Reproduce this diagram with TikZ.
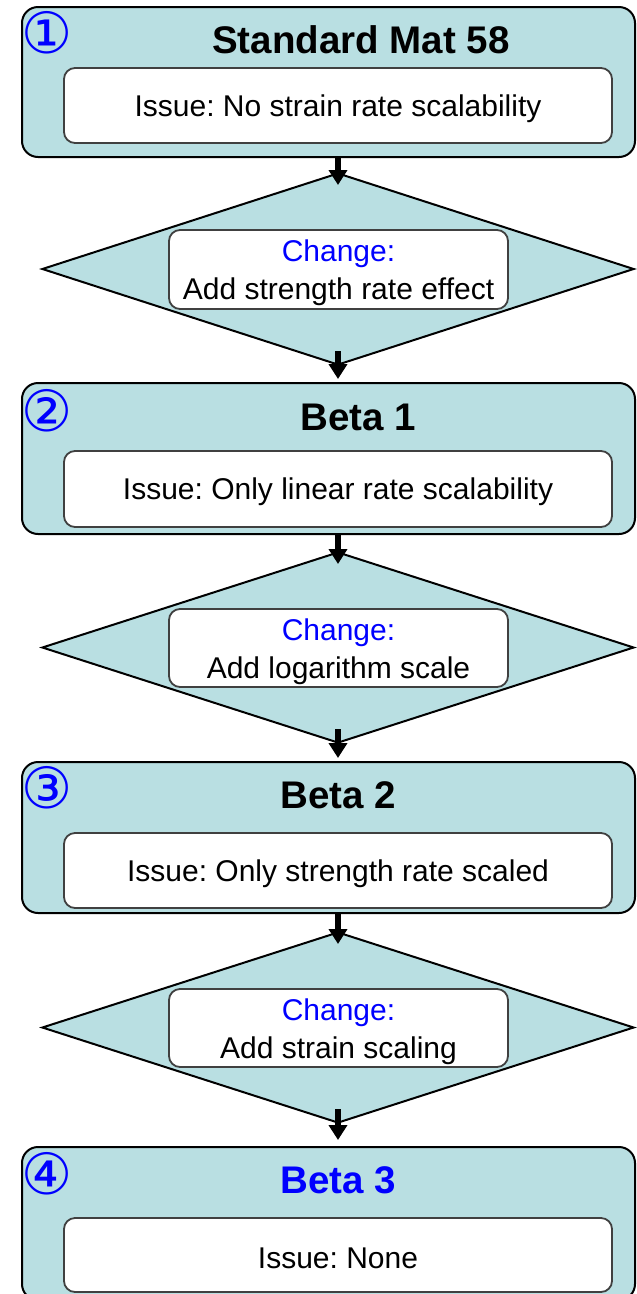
\documentclass[tikz,border=0pt]{standalone}
\usepackage{fontspec}
\setmainfont{Liberation Sans}
\newfontfamily\circfont{DejaVu Sans}
\usetikzlibrary{shapes.geometric,arrows.meta,calc}
\definecolor{teal1}{HTML}{B9DFE2}
\definecolor{bblue}{HTML}{0000FF}
\definecolor{ibord}{HTML}{404040}
\frenchspacing
\newcommand{\twolines}[2]{\raisebox{-3.5pt}[\height][\depth]{\begin{tabular}{@{}c@{}}\textcolor{bblue}{#1}\\#2\end{tabular}}}
\newcommand{\issuetext}[1]{\raisebox{-3pt}[\height][\depth]{#1}}
\tikzset{
  outerbox/.style={draw=black, line width=2pt, fill=teal1, rounded corners=16pt, minimum width=613pt, inner sep=0pt},
  issuebox/.style={draw=ibord, line width=1.8pt, fill=white, rounded corners=11pt, minimum width=548pt, inner sep=0pt, font=\fontsize{30}{36}\selectfont},
  decide/.style={draw=black, line width=2pt, fill=teal1, diamond, minimum width=592pt, minimum height=192pt, inner sep=0pt},
  changebox/.style={draw=ibord, line width=1.8pt, fill=white, rounded corners=11pt, minimum width=339pt, minimum height=79pt, inner sep=0pt, align=center, font=\fontsize{30}{38}\selectfont},
  titletext/.style={font=\bfseries\fontsize{38.5}{40}\selectfont, inner sep=0pt},
  numtext/.style={text=bblue, font=\circfont\fontsize{57}{57}\selectfont, inner sep=0pt},
  arr/.style={line width=6pt, -{Triangle[width=18pt,length=15pt]}}
}
\begin{document}
\begin{tikzpicture}[x=1pt,y=-1pt]
\useasboundingbox (0,0) rectangle (637,1294);
\clip (0,0) rectangle (637,1294);
% stage 1
\node[outerbox, minimum height=150pt] (b1) at (328.5,82) {};
\node[titletext] (t1) at (361,40) {Standard Mat 58};
\node[numtext] (n1) at (47.5,33) {①};
\node[issuebox, minimum height=75pt] (i1) at (338,105.5) {\issuetext{Issue: No strain rate scalability}};
\node[decide] (d1) at (338,269) {};
\node[changebox] (c1) at (338.5,269.5) {\twolines{Change:}{Add strength rate effect}};
% stage 2
\node[outerbox, minimum height=151pt] (b2) at (328.5,458.5) {};
\node[titletext] (t2) at (358,417) {Beta 1};
\node[numtext] (n2) at (47.5,410.5) {②};
\node[issuebox, minimum height=76pt] (i2) at (338,489) {\issuetext{Issue: Only linear rate scalability}};
\node[decide, minimum height=191pt] (d2) at (338,647.5) {};
\node[changebox, minimum height=78pt] (c2) at (338.5,648) {\twolines{Change:}{Add logarithm scale}};
% stage 3
\node[outerbox, minimum height=151pt] (b3) at (328.5,837.5) {};
\node[titletext] (t3) at (338,795) {Beta 2};
\node[numtext] (n3) at (47.5,787.5) {③};
\node[issuebox, minimum height=75pt] (i3) at (338,870.5) {\issuetext{Issue: Only strength rate scaled}};
\node[decide, minimum height=191pt] (d3) at (338,1027.5) {};
\node[changebox, minimum height=78pt] (c3) at (338.5,1028) {\twolines{Change:}{Add strain scaling}};
% stage 4
\node[outerbox, minimum height=153pt] (b4) at (328.5,1223.5) {};
\node[titletext, text=bblue] (t4) at (338,1180) {Beta 3};
\node[numtext] (n4) at (47.5,1173.5) {④};
\node[issuebox, minimum height=74pt] (i4) at (338,1255) {\issuetext{Issue: None}};
% arrows
\draw[arr] (b1.south -| d1.north) -- ($(d1.north)+(0,13)$);
\draw[arr] ($(d1.south)+(0,-15)$) -- ($(b2.north -| d1.south)+(0,-3)$);
\draw[arr] (b2.south -| d2.north) -- ($(d2.north)+(0,13)$);
\draw[arr] ($(d2.south)+(0,-15)$) -- ($(b3.north -| d2.south)+(0,-3)$);
\draw[arr] (b3.south -| d3.north) -- ($(d3.north)+(0,13)$);
\draw[arr] ($(d3.south)+(0,-15)$) -- ($(b4.north -| d3.south)+(0,-6)$);
\end{tikzpicture}
\end{document}
